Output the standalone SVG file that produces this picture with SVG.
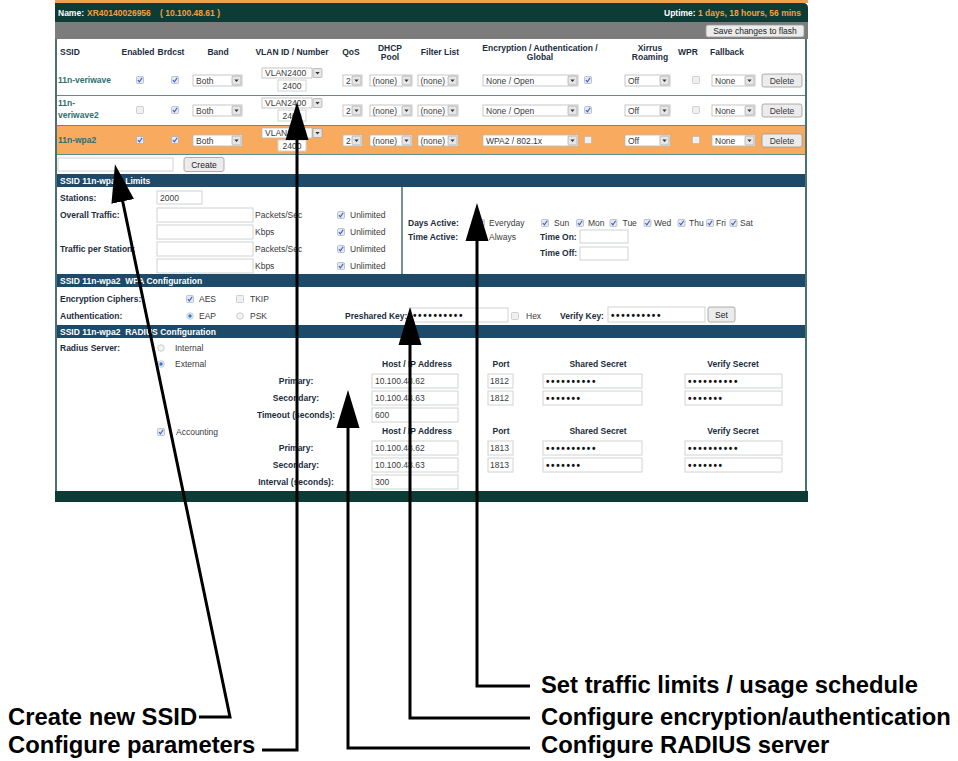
<svg xmlns="http://www.w3.org/2000/svg" width="958" height="761" viewBox="0 0 958 761">
<style>
text{font-family:"Liberation Sans",Arial,sans-serif;font-size:8.5px;fill:#3a3a3a}
.b{font-weight:bold;fill:#1c2e40}
.h{font-weight:bold;fill:#1c2e40;text-anchor:middle}
.c{text-anchor:middle}
.w{font-weight:bold;fill:#fff}
.o{fill:#f5a040}
.s{font-weight:bold;fill:#2e6f6e}
.dots{font-size:10px;letter-spacing:1.6px;fill:#111;font-weight:bold}
.inp{fill:#fff;stroke:#cfd4d4;stroke-width:1}
.sel{fill:#fff;stroke:#b8b8b8;stroke-width:0.8}
.btn{fill:#ececec;stroke:#9a9a9a;stroke-width:0.8}
.sep{stroke:#5f8c89;stroke-width:1.2}
.bar{fill:#1d4a69}
.lbl{font-size:23.8px;font-weight:bold;fill:#000}
.conn{fill:none;stroke:#000;stroke-width:3;stroke-linejoin:miter;marker-end:url(#ah)}
</style>
<defs>
<marker id="ah" markerUnits="userSpaceOnUse" markerWidth="38" markerHeight="24" viewBox="0 0 38 24" refX="28" refY="12" orient="auto"><path d="M0,0.5 L38,12 L0,23.5 z" fill="#000"/></marker>
<g id="cbC"><rect x="-3.5" y="-3.5" width="7" height="7" rx="1" fill="#e4e8f0" stroke="#9ea6b4" stroke-width="0.6"/><path d="M-2.1,0.1 L-0.6,1.9 L2.2,-2.3" fill="none" stroke="#3b5cc4" stroke-width="1.1"/></g>
<g id="cbU"><rect x="-3.5" y="-3.5" width="7" height="7" rx="1" fill="#f0f0f0" stroke="#b4b4b4" stroke-width="0.6"/></g>
<g id="dd"><rect x="0" y="0" width="9" height="9" rx="1" fill="#e6e6e6" stroke="#9a9a9a" stroke-width="0.6"/><path d="M2.4,3.4 H6.6 L4.5,6 z" fill="#333"/></g>
<g id="rOn"><circle r="3.3" fill="#e8eef8" stroke="#a8b4c4" stroke-width="0.6"/><circle r="1.7" fill="#2b79cf"/></g>
<g id="rOff"><circle r="3.3" fill="#f2f2f2" stroke="#b4b4b4" stroke-width="0.6"/></g>
</defs>
<rect width="958" height="761" fill="#fff"/>

<g id="screenshot">
<rect x="56" y="30" width="750" height="462" fill="#fff" stroke="#4a716e" stroke-width="2"/>
<rect x="55" y="0" width="753" height="3" fill="#f0a050"/>
<path d="M55,3 H803 Q808,3 808,8 V22 H55 z" fill="#0d3b36"/>
<text class="w" x="58" y="15.5">Name: <tspan class="o" x="87">XR40140026956</tspan><tspan class="o" x="160">( 10.100.48.61 )</tspan></text>
<text class="w" x="801" y="15.5" text-anchor="end">Uptime: <tspan class="o">1 days, 18 hours, 56 mins</tspan></text>
<rect x="55" y="22" width="753" height="17" fill="#7c7c7c"/>
<rect class="btn" x="706" y="25" width="98" height="12" rx="2"/>
<text class="c" x="755" y="34" style="fill:#222">Save changes to flash</text>

<!-- header -->
<text class="b" x="60" y="54.5">SSID</text>
<text class="h" x="138" y="54.5">Enabled</text>
<text class="h" x="171" y="54.5">Brdcst</text>
<text class="h" x="218" y="54.5">Band</text>
<text class="h" x="292" y="54.5">VLAN ID / Number</text>
<text class="h" x="351" y="54.5">QoS</text>
<text class="h" x="390" y="50.5">DHCP</text>
<text class="h" x="390" y="59.5">Pool</text>
<text class="h" x="440" y="54.5">Filter List</text>
<text class="h" x="540" y="50.5">Encryption / Authentication /</text>
<text class="h" x="540" y="59.5">Global</text>
<text class="h" x="650" y="50.5">Xirrus</text>
<text class="h" x="650" y="59.5">Roaming</text>
<text class="h" x="688" y="54.5">WPR</text>
<text class="h" x="727" y="54.5">Fallback</text>

<!-- row 3 background -->
<rect x="57" y="126" width="748" height="28" fill="#f8aa5e"/>
<line class="sep" x1="57" y1="95.5" x2="805" y2="95.5"/>
<line class="sep" x1="57" y1="125.5" x2="805" y2="125.5"/>
<line class="sep" x1="57" y1="154.5" x2="805" y2="154.5"/>

<!-- row 1 -->
<g id="row1">
<text class="s" x="58" y="83">11n-veriwave</text>
<use href="#cbC" x="140" y="80"/>
<use href="#cbC" x="175" y="80"/>
<rect class="sel" x="193" y="75" width="49" height="11"/><text x="196" y="83.5">Both</text><use href="#dd" x="232" y="76"/>
<rect class="sel" x="262" y="68" width="50" height="10"/><text x="265" y="76">VLAN2400</text><use href="#dd" x="313" y="68.5"/>
<rect class="inp" x="278" y="80" width="28" height="11"/><text class="c" x="292" y="88.5">2400</text>
<rect class="sel" x="343" y="75" width="19" height="11"/><text x="346" y="83.5">2</text><use href="#dd" x="352" y="76"/>
<rect class="sel" x="370" y="75" width="42" height="11"/><text x="372.5" y="83.5">(none)</text><use href="#dd" x="402" y="76"/>
<rect class="sel" x="418" y="75" width="40" height="11"/><text x="420.5" y="83.5">(none)</text><use href="#dd" x="448" y="76"/>
<rect class="sel" x="483" y="75" width="95" height="11"/><text x="486" y="83.5">None / Open</text><use href="#dd" x="568" y="76"/>
<use href="#cbC" x="588" y="80"/>
<rect class="sel" x="625" y="75" width="45" height="11"/><text x="628" y="83.5">Off</text><use href="#dd" x="660" y="76"/>
<use href="#cbU" x="696" y="80"/>
<rect class="sel" x="712" y="75" width="43" height="11"/><text x="715" y="83.5">None</text><use href="#dd" x="745" y="76"/>
<rect class="btn" x="762" y="74" width="40" height="13" rx="2"/><text class="c" x="782" y="83.5">Delete</text>
</g>

<!-- row 2 -->
<g id="row2" transform="translate(0,30)">
<text class="s" x="58" y="76">11n-</text>
<text class="s" x="58" y="88">veriwave2</text>
<use href="#cbU" x="140" y="80"/>
<use href="#cbC" x="175" y="80"/>
<rect class="sel" x="193" y="75" width="49" height="11"/><text x="196" y="83.5">Both</text><use href="#dd" x="232" y="76"/>
<rect class="sel" x="262" y="68" width="50" height="10"/><text x="265" y="76">VLAN2400</text><use href="#dd" x="313" y="68.5"/>
<rect class="inp" x="278" y="80" width="28" height="11"/><text class="c" x="292" y="88.5">2400</text>
<rect class="sel" x="343" y="75" width="19" height="11"/><text x="346" y="83.5">2</text><use href="#dd" x="352" y="76"/>
<rect class="sel" x="370" y="75" width="42" height="11"/><text x="372.5" y="83.5">(none)</text><use href="#dd" x="402" y="76"/>
<rect class="sel" x="418" y="75" width="40" height="11"/><text x="420.5" y="83.5">(none)</text><use href="#dd" x="448" y="76"/>
<rect class="sel" x="483" y="75" width="95" height="11"/><text x="486" y="83.5">None / Open</text><use href="#dd" x="568" y="76"/>
<use href="#cbC" x="588" y="80"/>
<rect class="sel" x="625" y="75" width="45" height="11"/><text x="628" y="83.5">Off</text><use href="#dd" x="660" y="76"/>
<use href="#cbU" x="696" y="80"/>
<rect class="sel" x="712" y="75" width="43" height="11"/><text x="715" y="83.5">None</text><use href="#dd" x="745" y="76"/>
<rect class="btn" x="762" y="74" width="40" height="13" rx="2"/><text class="c" x="782" y="83.5">Delete</text>
</g>

<!-- row 3 -->
<g id="row3" transform="translate(0,60)">
<text class="s" x="58" y="83">11n-wpa2</text>
<use href="#cbC" x="140" y="80"/>
<use href="#cbC" x="175" y="80"/>
<rect class="sel" x="193" y="75" width="49" height="11"/><text x="196" y="83.5">Both</text><use href="#dd" x="232" y="76"/>
<rect class="sel" x="262" y="68" width="50" height="10"/><text x="265" y="76">VLAN2400</text><use href="#dd" x="313" y="68.5"/>
<rect class="inp" x="278" y="80" width="28" height="11"/><text class="c" x="292" y="88.5">2400</text>
<rect class="sel" x="343" y="75" width="19" height="11"/><text x="346" y="83.5">2</text><use href="#dd" x="352" y="76"/>
<rect class="sel" x="370" y="75" width="42" height="11"/><text x="372.5" y="83.5">(none)</text><use href="#dd" x="402" y="76"/>
<rect class="sel" x="418" y="75" width="40" height="11"/><text x="420.5" y="83.5">(none)</text><use href="#dd" x="448" y="76"/>
<rect class="sel" x="483" y="75" width="95" height="11"/><text x="486" y="83.5">WPA2 / 802.1x</text><use href="#dd" x="568" y="76"/>
<use href="#cbU" x="588" y="80"/>
<rect class="sel" x="625" y="75" width="45" height="11"/><text x="628" y="83.5">Off</text><use href="#dd" x="660" y="76"/>
<use href="#cbU" x="696" y="80"/>
<rect class="sel" x="712" y="75" width="43" height="11"/><text x="715" y="83.5">None</text><use href="#dd" x="745" y="76"/>
<rect class="btn" x="762" y="74" width="40" height="13" rx="2"/><text class="c" x="782" y="83.5">Delete</text>
</g>

<!-- create -->
<rect class="inp" x="58" y="158" width="115" height="13"/>
<rect class="btn" x="184" y="157.5" width="40" height="14" rx="2"/>
<text class="c" x="204" y="167.5" style="fill:#222">Create</text>

<!-- Limits -->
<rect class="bar" x="57" y="174" width="748" height="13"/>
<text class="w" x="60" y="184" xml:space="preserve">SSID 11n-wpa2  Limits</text>
<line x1="402" y1="187" x2="402" y2="274" stroke="#4a716e" stroke-width="1.5"/>
<text class="b" x="60" y="201">Stations:</text>
<rect class="inp" x="157" y="191" width="45" height="13"/><text x="160" y="201">2000</text>
<text class="b" x="60" y="218">Overall Traffic:</text>
<text class="b" x="60" y="252">Traffic per Station:</text>
<rect class="inp" x="157" y="208" width="96" height="14"/>
<rect class="inp" x="157" y="225" width="96" height="14"/>
<rect class="inp" x="157" y="242" width="96" height="14"/>
<rect class="inp" x="157" y="259" width="96" height="14"/>
<text x="255" y="218">Packets/Sec</text>
<text x="255" y="235">Kbps</text>
<text x="255" y="252">Packets/Sec</text>
<text x="255" y="269">Kbps</text>
<use href="#cbC" x="341" y="215"/><text x="350" y="218">Unlimited</text>
<use href="#cbC" x="341" y="232"/><text x="350" y="235">Unlimited</text>
<use href="#cbC" x="341" y="249"/><text x="350" y="252">Unlimited</text>
<use href="#cbC" x="341" y="266"/><text x="350" y="269">Unlimited</text>
<text class="b" x="408" y="226">Days Active:</text>
<text class="b" x="408" y="240">Time Active:</text>
<use href="#cbC" x="481" y="223"/><text x="489" y="226">Everyday</text>
<use href="#cbC" x="481" y="237"/><text x="489" y="240">Always</text>
<use href="#cbC" x="545" y="223"/><text x="554" y="226">Sun</text>
<use href="#cbC" x="580" y="223"/><text x="588" y="226">Mon</text>
<use href="#cbC" x="613.5" y="223"/><text x="622.5" y="226">Tue</text>
<use href="#cbC" x="647.5" y="223"/><text x="654" y="226">Wed</text>
<use href="#cbC" x="681.5" y="223"/><text x="689" y="226">Thu</text>
<use href="#cbC" x="710" y="223"/><text x="716" y="226">Fri</text>
<use href="#cbC" x="733.5" y="223"/><text x="740" y="226">Sat</text>
<text class="b" x="540" y="240">Time On:</text>
<rect class="inp" x="580" y="230" width="48" height="13"/>
<text class="b" x="540" y="256">Time Off:</text>
<rect class="inp" x="580" y="247" width="48" height="13"/>

<!-- WPA -->
<rect class="bar" x="57" y="274" width="748" height="13"/>
<text class="w" x="60" y="284" xml:space="preserve">SSID 11n-wpa2  WPA Configuration</text>
<text class="b" x="60" y="302">Encryption Ciphers:</text>
<use href="#cbC" x="190" y="299"/><text x="199" y="302">AES</text>
<use href="#cbU" x="240" y="299"/><text x="250" y="302">TKIP</text>
<text class="b" x="60" y="319">Authentication:</text>
<use href="#rOn" x="190" y="316"/><text x="199" y="319">EAP</text>
<use href="#rOff" x="240" y="316"/><text x="250" y="319">PSK</text>
<text class="b" x="345" y="319">Preshared Key:</text>
<rect class="inp" x="411" y="308" width="97" height="14"/><text class="dots" x="413" y="319">••••••••••</text>
<use href="#cbU" x="515" y="316"/><text x="526" y="319">Hex</text>
<text class="b" x="560" y="319">Verify Key:</text>
<rect class="inp" x="608" y="307" width="97" height="15"/><text class="dots" x="611" y="319">••••••••••</text>
<rect class="btn" x="708" y="307" width="27" height="15" rx="2"/><text class="c" x="721.5" y="318" style="fill:#222">Set</text>

<!-- RADIUS -->
<rect class="bar" x="57" y="325" width="748" height="13"/>
<text class="w" x="60" y="335" xml:space="preserve">SSID 11n-wpa2  RADIUS Configuration</text>
<text class="b" x="60" y="351">Radius Server:</text>
<use href="#rOff" x="161" y="348"/><text x="175" y="351">Internal</text>
<use href="#rOn" x="161" y="364"/><text x="175" y="367">External</text>
<text class="h" x="417" y="367">Host / IP Address</text>
<text class="h" x="501" y="367">Port</text>
<text class="h" x="598" y="367">Shared Secret</text>
<text class="h" x="733" y="367">Verify Secret</text>
<text class="h" x="296" y="384">Primary:</text>
<rect class="inp" x="372" y="374" width="86" height="14"/><text x="375" y="384">10.100.48.62</text>
<rect class="inp" x="488" y="374" width="25" height="14"/><text x="490" y="384">1812</text>
<rect class="inp" x="543" y="374" width="99" height="14"/><text class="dots" x="546" y="385">••••••••••</text>
<rect class="inp" x="685" y="374" width="97" height="14"/><text class="dots" x="688" y="385">••••••••••</text>
<text class="h" x="296" y="401">Secondary:</text>
<rect class="inp" x="372" y="391" width="86" height="14"/><text x="375" y="401">10.100.48.63</text>
<rect class="inp" x="488" y="391" width="25" height="14"/><text x="490" y="401">1812</text>
<rect class="inp" x="543" y="391" width="99" height="14"/><text class="dots" x="546" y="402">•••••••</text>
<rect class="inp" x="685" y="391" width="97" height="14"/><text class="dots" x="688" y="402">•••••••</text>
<text class="h" x="296" y="418">Timeout (seconds):</text>
<rect class="inp" x="372" y="408" width="86" height="14"/><text x="375" y="418">600</text>
<use href="#cbC" x="161" y="432"/><text x="176" y="435">Accounting</text>
<text class="h" x="417" y="434">Host / IP Address</text>
<text class="h" x="501" y="434">Port</text>
<text class="h" x="598" y="434">Shared Secret</text>
<text class="h" x="733" y="434">Verify Secret</text>
<text class="h" x="296" y="451">Primary:</text>
<rect class="inp" x="372" y="441" width="86" height="14"/><text x="375" y="451">10.100.48.62</text>
<rect class="inp" x="488" y="441" width="25" height="14"/><text x="490" y="451">1813</text>
<rect class="inp" x="543" y="441" width="99" height="14"/><text class="dots" x="546" y="452">••••••••••</text>
<rect class="inp" x="685" y="441" width="97" height="14"/><text class="dots" x="688" y="452">••••••••••</text>
<text class="h" x="296" y="468">Secondary:</text>
<rect class="inp" x="372" y="458" width="86" height="14"/><text x="375" y="468">10.100.48.63</text>
<rect class="inp" x="488" y="458" width="25" height="14"/><text x="490" y="468">1813</text>
<rect class="inp" x="543" y="458" width="99" height="14"/><text class="dots" x="546" y="469">•••••••</text>
<rect class="inp" x="685" y="458" width="97" height="14"/><text class="dots" x="688" y="469">•••••••</text>
<text class="h" x="296" y="485">Interval (seconds):</text>
<rect class="inp" x="372" y="475" width="86" height="14"/><text x="375" y="485">300</text>
<rect x="55" y="491" width="753" height="11" fill="#0d3b36"/>
</g>

<g id="connectors">
<path class="conn" d="M199,717 H230 L117,174"/>
<path class="conn" d="M262,750 H297 V112"/>
<path class="conn" d="M530,748 H348 V400"/>
<path class="conn" d="M530,718 H410 V317"/>
<path class="conn" d="M530,686 H477 V213"/>
</g>

<g id="label-create"><text class="lbl" x="8" y="725">Create new SSID</text></g>
<g id="label-params"><text class="lbl" x="8" y="753">Configure parameters</text></g>
<g id="label-traffic"><text class="lbl" x="541" y="693">Set traffic limits / usage schedule</text></g>
<g id="label-encryption"><text class="lbl" x="541" y="725">Configure encryption/authentication</text></g>
<g id="label-radius"><text class="lbl" x="541" y="753">Configure RADIUS server</text></g>
</svg>
